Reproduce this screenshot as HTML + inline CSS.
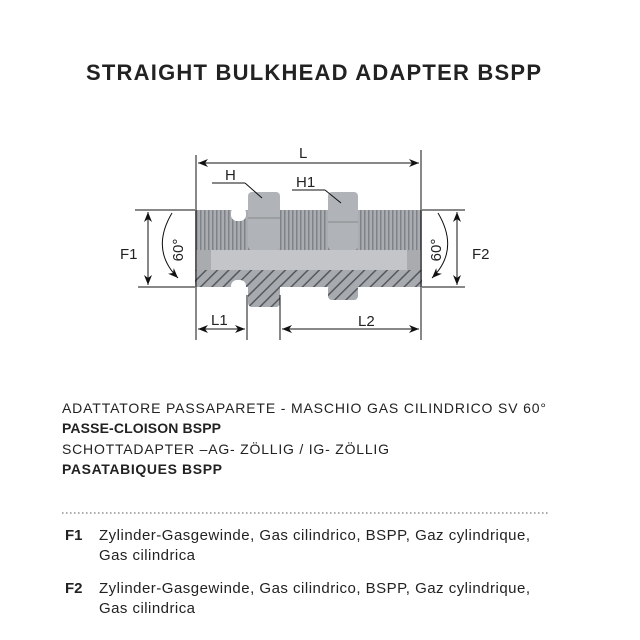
<!DOCTYPE html>
<html><head><meta charset="utf-8"><style>body{margin:0;background:#fff}svg{display:block}</style></head>
<body>
<svg width="640" height="640" viewBox="0 0 640 640" xmlns="http://www.w3.org/2000/svg" font-family="Liberation Sans, sans-serif">
<defs>
<pattern id="th" width="4" height="10" patternUnits="userSpaceOnUse"><rect width="4" height="10" fill="#a9acb1"/><rect width="1.5" height="10" fill="#7f8388"/></pattern>
<pattern id="ht" width="8" height="8" patternUnits="userSpaceOnUse" patternTransform="rotate(45)"><rect width="8" height="8" fill="#a7aaae"/><rect width="1.5" height="8" fill="#55585c"/></pattern>
<marker id="a" markerWidth="10" markerHeight="8" refX="10" refY="4" orient="auto-start-reverse" markerUnits="userSpaceOnUse"><path d="M0,0 L10,4 L0,8 L3,4z" fill="#111"/></marker>
</defs>
<text x="86" y="80" font-size="22" font-weight="bold" fill="#222" textLength="455">STRAIGHT BULKHEAD ADAPTER  BSPP</text>

<!-- body -->
<rect x="195" y="210" width="227" height="40" fill="url(#th)"/>
<rect x="195" y="250" width="227" height="20" fill="#c3c5c8"/>
<rect x="195" y="250" width="16" height="20" fill="#a9abaf"/>
<rect x="407" y="250" width="15" height="20" fill="#a9abaf"/>
<rect x="195" y="270" width="227" height="17" fill="url(#ht)"/>
<rect x="231" y="207" width="15" height="14" rx="6" fill="#fff"/>
<rect x="231" y="280" width="15" height="12" rx="6" fill="#fff"/>
<!-- hex H -->
<rect x="248" y="192" width="32" height="58" rx="4" fill="#b0b3b7"/>
<rect x="248" y="270" width="32" height="37" rx="4" fill="url(#ht)"/>
<line x1="248" y1="218" x2="280" y2="218" stroke="#888"/>
<!-- hex H1 -->
<rect x="328" y="192" width="30" height="58" rx="4" fill="#b0b3b7"/>
<rect x="328" y="285" width="30" height="15" rx="4" fill="url(#ht)"/>
<line x1="328" y1="222" x2="358" y2="222" stroke="#888"/>

<g stroke="#111" stroke-width="1" fill="none">
<line x1="196" y1="155" x2="196" y2="340"/>
<line x1="421" y1="150" x2="421" y2="340"/>
<line x1="247" y1="295" x2="247" y2="340"/>
<line x1="280" y1="295" x2="280" y2="340"/>
<line x1="198" y1="163" x2="419" y2="163" marker-start="url(#a)" marker-end="url(#a)"/>
<line x1="198" y1="329" x2="245" y2="329" marker-start="url(#a)" marker-end="url(#a)"/>
<line x1="282" y1="329" x2="419" y2="329" marker-start="url(#a)" marker-end="url(#a)"/>
<line x1="135" y1="210" x2="195" y2="210"/>
<line x1="138" y1="287" x2="195" y2="287"/>
<line x1="422" y1="210" x2="465" y2="210"/>
<line x1="422" y1="287" x2="465" y2="287"/>
<line x1="148" y1="212" x2="148" y2="285" marker-start="url(#a)" marker-end="url(#a)"/>
<line x1="457" y1="212" x2="457" y2="285" marker-start="url(#a)" marker-end="url(#a)"/>
<path d="M172,213 Q150,250 178,278" marker-end="url(#a)"/>
<path d="M438,213 Q460,250 432,278" marker-end="url(#a)"/>
<line x1="212" y1="183" x2="245" y2="183"/><line x1="245" y1="183" x2="262" y2="198"/>
<line x1="292" y1="190" x2="325" y2="190"/><line x1="325" y1="190" x2="341" y2="203"/>
</g>
<g font-size="15" fill="#222">
<text x="299" y="158">L</text>
<text x="225" y="180">H</text>
<text x="296" y="187">H1</text>
<text x="120" y="259">F1</text>
<text x="472" y="259">F2</text>
<text x="211" y="325">L1</text>
<text x="358" y="326">L2</text>
<text transform="translate(183,250) rotate(-90)" text-anchor="middle">60°</text>
<text transform="translate(441,250) rotate(-90)" text-anchor="middle">60°</text>
</g>

<g font-size="14" fill="#222">
<text x="62" y="413" textLength="484">ADATTATORE PASSAPARETE - MASCHIO  GAS CILINDRICO SV 60°</text>
<text x="62" y="433" font-weight="bold" textLength="159">PASSE-CLOISON BSPP</text>
<text x="62" y="454" textLength="327">SCHOTTADAPTER –AG- ZÖLLIG / IG- ZÖLLIG</text>
<text x="62" y="474" font-weight="bold" textLength="160">PASATABIQUES BSPP</text>
</g>
<line x1="62" y1="513" x2="550" y2="513" stroke="#555" stroke-dasharray="1.5,2.5"/>
<g font-size="15" fill="#222">
<text x="65" y="540" font-weight="bold">F1</text>
<text x="99" y="540" textLength="431">Zylinder-Gasgewinde, Gas cilindrico, BSPP, Gaz cylindrique,</text>
<text x="99" y="560" textLength="96">Gas cilindrica</text>
<text x="65" y="593" font-weight="bold">F2</text>
<text x="99" y="593" textLength="431">Zylinder-Gasgewinde, Gas cilindrico, BSPP, Gaz cylindrique,</text>
<text x="99" y="613" textLength="96">Gas cilindrica</text>
</g>
</svg>
</body></html>
